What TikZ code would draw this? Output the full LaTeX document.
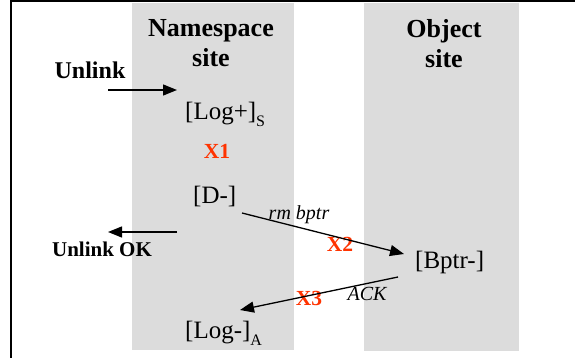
\documentclass[tikz,border=0pt]{standalone}
\usepackage{fontspec}
\setmainfont{Liberation Serif}
\usetikzlibrary{arrows.meta}
\definecolor{stripgray}{HTML}{DCDCDC}
\definecolor{xred}{HTML}{FF3300}
\newcommand{\subtag}[1]{\raisebox{-0.28em}{\fontsize{16}{16}\selectfont #1}}
\begin{document}
\begin{tikzpicture}[x=1pt,y=-1pt,
  sitehead/.style={font=\fontsize{26}{30}\selectfont\bfseries, align=center, inner sep=0, anchor=north},
  statelab/.style={font=\fontsize{25}{28}\selectfont, inner sep=0, anchor=base west},
  xlab/.style={font=\fontsize{21.5}{24}\selectfont\bfseries, text=xred, inner sep=0, anchor=base},
  msglab/.style={font=\fontsize{20}{22}\selectfont\itshape, inner sep=0, anchor=base},
  extlab/.style={font=\bfseries, inner sep=0, anchor=base},
  flow/.style={line width=1.3pt, -{Triangle[length=14pt,width=11pt]}}]
\useasboundingbox (0,0) rectangle (575,358);
% site columns
\fill[stripgray] (132,3) rectangle (294,350);
\fill[stripgray] (364,3) rectangle (519,351);
% frame
\draw[line width=1.5pt] (11,358) -- (11,1) -- (575,1);

% headings
\node[sitehead] (ns) at (211,19) {Namespace\\site};
\node[sitehead] (os) at (444,19) {Object\\site};

% states
\node[statelab] (logp) at (185,120) {[Log+]\subtag{S}};
\node[statelab] (dm) at (193,203) {[D-]};
\node[statelab] (bp) at (415,268) {[Bptr-]};
\node[statelab] (logm) at (185,338) {[Log-]\subtag{A}};

% step markers
\node[xlab] (x1) at (217,159) {X1};
\node[xlab] (x2) at (340,251) {X2};
\node[xlab] (x3) at (309,305) {X3};

% external request and reply
\node[extlab, font=\fontsize{24}{26}\selectfont\bfseries] (ul) at (90,79) {Unlink};
\node[extlab, font=\fontsize{21}{24}\selectfont\bfseries] (ulok) at (102,256) {Unlink OK};

% message labels
\node[msglab] (rm) at (299,219) {rm bptr};
\node[msglab] (ack) at (367,300) {ACK};

% arrow end points
\coordinate (ulS) at (108,90);
\coordinate (ulE) at (177,90);
\coordinate (okS) at (177,232);
\coordinate (okE) at (108,232);
\coordinate (rmS) at (242,213);
\coordinate (rmE) at (404,254);
\coordinate (ackS) at (398,277);
\coordinate (ackE) at (240,310);

\draw[flow] (ulS) -- (ulE);
\draw[flow] (okS) -- (okE);
\draw[flow] (rmS) -- (rmE);
\draw[flow] (ackS) -- (ackE);
\end{tikzpicture}
\end{document}
